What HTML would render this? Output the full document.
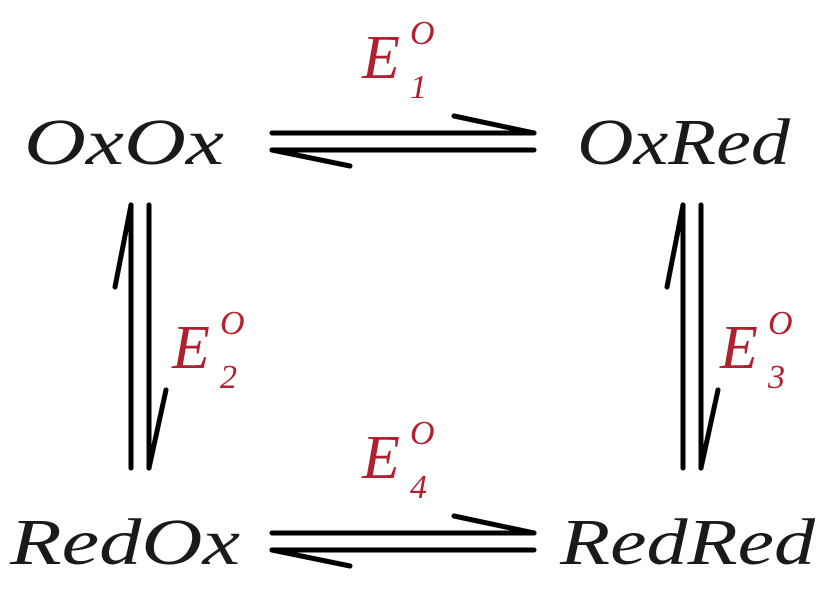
<!DOCTYPE html>
<html><head><style>body{margin:0;background:#fff}</style></head><body>
<svg width="833" height="611" xmlns="http://www.w3.org/2000/svg">
<g font-family="Liberation Serif, serif" font-style="italic" font-size="66" fill="#1a1a1a">
<text x="24" y="164" textLength="200" lengthAdjust="spacingAndGlyphs">OxOx</text>
<text x="577" y="164" textLength="213" lengthAdjust="spacingAndGlyphs">OxRed</text>
<text x="10" y="564" textLength="230" lengthAdjust="spacingAndGlyphs">RedOx</text>
<text x="560" y="564" textLength="255" lengthAdjust="spacingAndGlyphs">RedRed</text>
</g>
<g font-family="Liberation Serif, serif" font-style="italic" fill="#b0202e">
<text x="362" y="78" font-size="62">E</text><text x="410" y="44" font-size="34">O</text><text x="410" y="98" font-size="34">1</text>
<text x="172" y="368" font-size="62">E</text><text x="220" y="334" font-size="34">O</text><text x="220" y="388" font-size="34">2</text>
<text x="720" y="368" font-size="62">E</text><text x="768" y="334" font-size="34">O</text><text x="768" y="388" font-size="34">3</text>
<text x="362" y="478" font-size="62">E</text><text x="410" y="444" font-size="34">O</text><text x="410" y="498" font-size="34">4</text>
</g>
<g stroke="#000" stroke-width="5" fill="none" stroke-linecap="round">
<line x1="272" y1="133" x2="534" y2="133"/><line x1="272" y1="150" x2="534" y2="150"/>
<line x1="454" y1="116" x2="534" y2="133"/><line x1="272" y1="150" x2="350" y2="166"/>
<line x1="272" y1="533" x2="534" y2="533"/><line x1="272" y1="550" x2="534" y2="550"/>
<line x1="454" y1="516" x2="534" y2="533"/><line x1="272" y1="550" x2="350" y2="566"/>
<line x1="131" y1="205" x2="131" y2="468"/><line x1="149" y1="205" x2="149" y2="468"/>
<line x1="131" y1="205" x2="115" y2="287"/><line x1="149" y1="468" x2="166" y2="390"/>
<line x1="683" y1="205" x2="683" y2="468"/><line x1="701" y1="205" x2="701" y2="468"/>
<line x1="683" y1="205" x2="667" y2="287"/><line x1="701" y1="468" x2="718" y2="390"/>
</g>
</svg>
</body></html>
